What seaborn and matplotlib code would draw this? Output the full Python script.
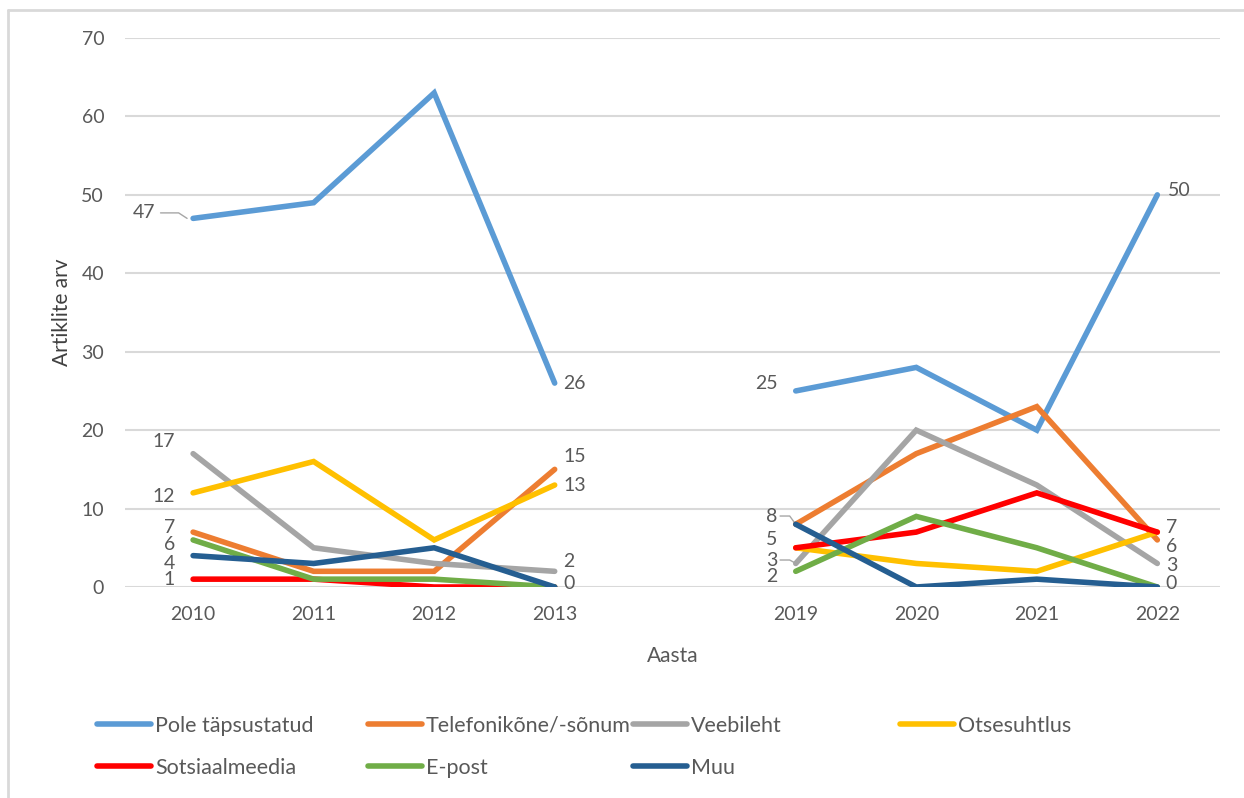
import matplotlib
matplotlib.use("Agg")
import numpy as np
import pandas as pd
import seaborn as sns
import matplotlib.pyplot as plt
from matplotlib.lines import Line2D

# data
years_a = ["2010", "2011", "2012", "2013"]
years_b = ["2019", "2020", "2021", "2022"]
series = ["Pole täpsustatud", "Telefonikõne/-sõnum", "Veebileht", "Otsesuhtlus",
          "Sotsiaalmeedia", "E-post", "Muu"]
pole = [47, 49, 63, 26, 25, 28, 20, 50]
telefon = [7, 2, 2, 15, 8, 17, 23, 6]
veeb = [17, 5, 3, 2, 3, 20, 13, 3]
otse = [12, 16, 6, 13, 5, 3, 2, 7]
sotsiaal = [1, 1, 0, 0, 5, 7, 12, 7]
epost = [6, 1, 1, 0, 2, 9, 5, 0]
muu = [4, 3, 5, 0, 8, 0, 1, 0]

colors = ["#5B9BD5", "#ED7D31", "#A5A5A5", "#FFC000", "#FF0000", "#70AD47", "#255E91"]

values = [pole, telefon, veeb, otse, sotsiaal, epost, muu]
# slot 4 is the empty gap between the two periods
positions = [0, 1, 2, 3, 5, 6, 7, 8]
year_labels = years_a + years_b

rows = []
for name, vals in zip(series, values):
    for pos, v in zip(positions, vals):
        rows.append({"series": name, "pos": pos, "value": v,
                     "segment": "a" if pos < 4 else "b"})
df = pd.DataFrame(rows)

sns.set_theme(style="white")
plt.rcParams["font.family"] = ["Lato", "DejaVu Sans"]
text_c = "#595959"
fs = 14

fig = plt.figure(figsize=(12.44, 7.98), dpi=100)
ax = fig.add_axes([125 / 1244, 1 - 587 / 798, 1095 / 1244, 549 / 798])

sns.lineplot(data=df, x="pos", y="value", hue="series", units="segment",
             estimator=None, palette=dict(zip(series, colors)), hue_order=series,
             linewidth=4.0, legend=False, ax=ax, zorder=3)
for ln in ax.lines:
    ln.set_solid_capstyle("round")
    ln.set_solid_joinstyle("miter")

ax.set_xlim(-0.565, 8.52)
ax.set_ylim(0, 70)
ax.set_yticks(range(0, 71, 10))
ax.set_xticks(positions)
ax.set_xticklabels(year_labels)
ax.tick_params(axis="both", length=0, labelsize=fs, colors=text_c)
ax.tick_params(axis="y", pad=15)
ax.tick_params(axis="x", pad=14)
ax.grid(axis="y", color="#D9D9D9", linewidth=1.5)
ax.set_axisbelow(True)
for s in ax.spines.values():
    s.set_visible(False)
ax.set_xlabel("Aasta", fontsize=15, color=text_c, labelpad=16)
ax.set_ylabel("Artiklite arv", fontsize=15, color="#404040", labelpad=7)

# data labels: (series index, value index, label y, x offset)
labels = [
    (0, 0, 47.7, -0.31), (2, 0, 18.6, -0.15), (3, 0, 11.5, -0.15), (1, 0, 7.65, -0.15),
    (5, 0, 5.36, -0.15), (6, 0, 3.06, -0.15), (4, 0, 0.9, -0.15),
    (0, 3, 26.0, 0.07), (1, 3, 16.6, 0.07), (3, 3, 13.0, 0.07), (2, 3, 3.2, 0.07),
    (6, 3, 0.4, 0.07),
    (0, 4, 26.0, -0.15), (6, 4, 9.05, -0.15), (4, 4, 6.0, -0.15), (2, 4, 3.44, -0.15),
    (5, 4, 1.3, -0.15),
    (0, 7, 50.6, 0.09), (4, 7, 7.65, 0.07), (1, 7, 5.2, 0.07), (2, 7, 2.7, 0.07),
    (6, 7, 0.4, 0.07),
]
for si, vi, ly, dx in labels:
    ax.text(positions[vi] + dx, ly, str(values[si][vi]),
            ha="right" if dx < 0 else "left", va="center",
            fontsize=fs, color=text_c, zorder=5, clip_on=False)

# small leader lines
ax.plot([-0.27, -0.12, -0.05], [47.7, 47.7, 47.0], color="#A6A6A6", lw=1, zorder=2)
ax.plot([4.87, 4.95, 4.99], [9.05, 9.05, 8.2], color="#A6A6A6", lw=1, zorder=2)
ax.plot([4.87, 4.95, 4.99], [3.44, 3.44, 3.1], color="#A6A6A6", lw=1, zorder=2)

# legend in four columns like the original
cols = [[0, 4], [1, 5], [2, 6], [3]]
col_x = [97, 368, 633, 900]
for idx, cx in zip(cols, col_x):
    handles = [Line2D([], [], color=colors[i], lw=4.0, solid_capstyle="round") for i in idx]
    fig.legend(handles, [series[i] for i in idx], loc="upper left",
               bbox_to_anchor=(cx / 1244, 1 - 716 / 798), frameon=False,
               fontsize=15.5, labelcolor=text_c, handlelength=2.5,
               handletextpad=0.2, labelspacing=1.0, borderaxespad=0,
               borderpad=0)

# chart-area border (left and top visible)
fig.add_artist(Line2D([8 / 1244, 8 / 1244], [0, 1 - 10 / 798], color="#D9D9D9", lw=2))
fig.add_artist(Line2D([8 / 1244, 1], [1 - 10 / 798, 1 - 10 / 798], color="#D9D9D9", lw=2))

fig.savefig("out.png", dpi=100)
